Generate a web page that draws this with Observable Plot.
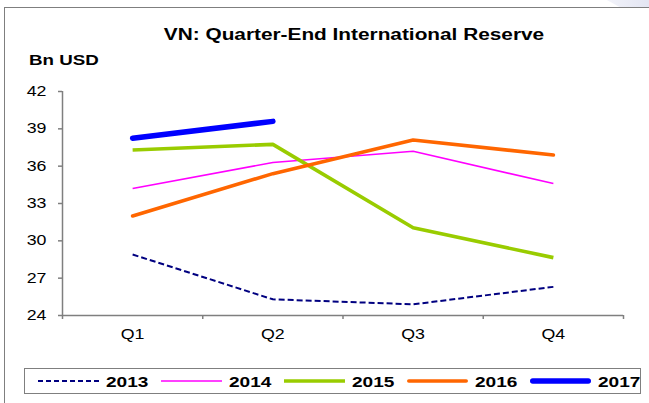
<!DOCTYPE html>
<html><head><meta charset="utf-8">
<script src="https://cdn.jsdelivr.net/npm/d3@7"></script>
<script src="https://cdn.jsdelivr.net/npm/@observablehq/plot@0.6"></script>
<style>
html,body{margin:0;padding:0;background:#fff;}
#wrap{position:relative;width:649px;height:403px;overflow:hidden;font-family:"Liberation Sans",Arial,sans-serif;color:#000;}
#plot{position:absolute;left:0;top:0;}
#deco{position:absolute;left:600px;top:0;width:49px;height:7px;background:linear-gradient(to right,#f4f5fb,#e3e5f2);clip-path:polygon(14% 0,100% 0,100% 100%,40% 100%);}
#frame{position:absolute;left:4px;top:7px;width:800px;height:600px;border-left:1.5px solid #7f7f7f;border-top:1.5px solid #7f7f7f;}
#title{position:absolute;left:354px;top:27px;font-size:16px;line-height:16px;font-weight:bold;white-space:nowrap;transform:translateX(-50%) scaleX(1.3);}
#unit{position:absolute;left:29px;top:52px;font-size:15px;line-height:15px;font-weight:bold;white-space:nowrap;transform:scaleX(1.25);transform-origin:left center;}
#legend{position:absolute;left:24px;top:368px;width:617px;height:26px;box-sizing:border-box;border:1.5px solid #7f7f7f;display:flex;align-items:center;padding-left:12.5px;}
.item{display:flex;align-items:center;margin-right:14px;}
.item svg{display:block;margin-right:7px;}
.item span{display:inline-block;width:41px;font-size:15px;font-weight:bold;line-height:15px;white-space:nowrap;transform:scaleX(1.27);transform-origin:left center;}
</style>
</head><body>
<div id="wrap">
  <div id="plot"></div>
  <div id="deco"></div>
  <div id="frame"></div>
  <div id="title"></div>
  <div id="unit"></div>
  <div id="legend"></div>
</div>
<script>
const titleText = "VN: Quarter-End International Reserve";
const unitText = "Bn USD";
const quarters = ["Q1", "Q2", "Q3", "Q4"];
const years = ["2013", "2014", "2015", "2016", "2017"];
const r2013 = [28.9, 25.3, 24.9, 26.3];
const r2014 = [34.2, 36.3, 37.2, 34.6];
const r2015 = [37.3, 37.75, 31.05, 28.65];
const r2016 = [32.0, 35.4, 38.1, 36.9];
const r2017 = [38.25, 39.6];
const yTicks = [24, 27, 30, 33, 36, 39, 42];

const seriesValues = [r2013, r2014, r2015, r2016, r2017];
const seriesStyle = [
  {stroke: "#000080", strokeWidth: 2, strokeDasharray: "6,3", strokeLinecap: "butt"},
  {stroke: "#FF00FF", strokeWidth: 1.6, strokeLinecap: "butt"},
  {stroke: "#99CC00", strokeWidth: 3.6, strokeLinecap: "butt"},
  {stroke: "#FF6600", strokeWidth: 3.6, strokeLinecap: "round"},
  {stroke: "#0000FF", strokeWidth: 5.5, strokeLinecap: "round"}
];

document.getElementById("title").textContent = titleText;
document.getElementById("unit").textContent = unitText;

const idx = d3.range(quarters.length);
const boundaries = d3.range(quarters.length + 1).map(i => i - 0.5);
const rows = (vals, year) => vals.map((v, i) => ({q: i, v, year}));
const axisGray = "#7f7f7f";

const lineMarks = seriesValues.map((vals, k) =>
  Plot.line(rows(vals, years[k]), {x: "q", y: "v", strokeLinejoin: "round", ...seriesStyle[k]})
);

const chart = Plot.plot({
  width: 649, height: 403,
  marginLeft: 62, marginRight: 26, marginTop: 91, marginBottom: 88,
  style: {background: "transparent", fontFamily: "'Liberation Sans', Arial, sans-serif", fontSize: "14px", color: "#000", overflow: "visible"},
  x: {type: "linear", domain: [boundaries[0], boundaries[boundaries.length - 1]]},
  y: {domain: [yTicks[0], yTicks[yTicks.length - 1]]},
  marks: [
    ...lineMarks,
    Plot.ruleX([boundaries[0]], {stroke: axisGray, strokeWidth: 1.5}),
    Plot.ruleY([yTicks[0]], {stroke: axisGray, strokeWidth: 1.5}),
    Plot.axisY({ticks: yTicks, tickSize: 4, tickPadding: 12, stroke: axisGray, fill: "#000", strokeWidth: 1.5, label: null, tickFormat: d => String(d)}),
    Plot.axisX({ticks: idx, tickSize: 0, tickPadding: 14, fill: "#000", label: null, tickFormat: i => quarters[i]}),
    Plot.axisX({ticks: boundaries, tickSize: 4, stroke: axisGray, strokeWidth: 1.5, label: null, tickFormat: () => ""})
  ]
});
document.getElementById("plot").appendChild(chart);

// horizontal stretch of tick labels to match reference
chart.querySelectorAll("text").forEach(t => {
  const w = t.getComputedTextLength();
  if (w > 0) {
    t.setAttribute("textLength", (w * 1.27).toFixed(2));
    t.setAttribute("lengthAdjust", "spacingAndGlyphs");
  }
});

// legend
const legend = document.getElementById("legend");
years.forEach((y, k) => {
  const s = seriesStyle[k];
  const item = document.createElement("div");
  item.className = "item";
  const svg = d3.create("svg").attr("width", 61).attr("height", 10);
  const inset = s.strokeLinecap === "round" ? s.strokeWidth / 2 : 0;
  svg.append("line")
    .attr("x1", inset).attr("x2", 61 - inset).attr("y1", 5).attr("y2", 5)
    .attr("stroke", s.stroke).attr("stroke-width", s.strokeWidth)
    .attr("stroke-dasharray", s.strokeDasharray ? "5,3" : null)
    .attr("stroke-linecap", s.strokeLinecap);
  item.appendChild(svg.node());
  const sp = document.createElement("span");
  sp.textContent = y;
  item.appendChild(sp);
  legend.appendChild(item);
});
</script>
</body></html>
